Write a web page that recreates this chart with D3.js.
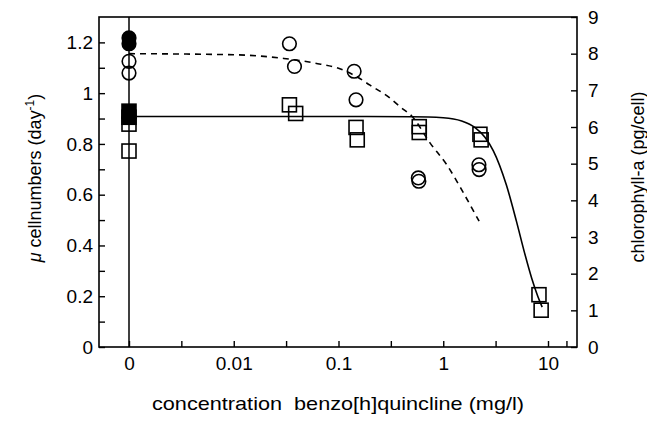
<!DOCTYPE html>
<html><head><meta charset="utf-8">
<script src="https://cdn.jsdelivr.net/npm/d3@7/dist/d3.min.js"></script>
<style>
html,body{margin:0;padding:0;background:#fff;}
svg{display:block;font-family:"Liberation Sans",Arial,Helvetica,sans-serif;}
</style></head>
<body>
<svg id="chart" width="647" height="422"></svg>
<script>
// ---- data; concentration 0 is drawn at the "0" position ----
const xTickValues = [0, 0.01, 0.1, 1, 10];
const xTickLabels = ["0", "0.01", "0.1", "1", "10"];
const xMinorTicks = [0.00316, 0.0316, 0.316, 3.16, 15];
const leftTickValues = [0, 0.2, 0.4, 0.6, 0.8, 1, 1.2];
const leftTickLabels = ["0", "0.2", "0.4", "0.6", "0.8", "1", "1.2"];
const leftMinorTicks = [0.1, 0.3, 0.5, 0.7, 0.9, 1.1];
const rightTickValues = [0,1,2,3,4,5,6,7,8,9];

// growth rate (squares, left axis)
const squareConc = [0, 0, 0, 0, 0.034, 0.039, 0.147, 0.151, 0.59, 0.59, 2.24, 2.3, 8.2, 8.6];
const squareMu   = [0.929, 0.905, 0.878, 0.772, 0.954, 0.92, 0.865, 0.816, 0.868, 0.845, 0.838, 0.816, 0.206, 0.145];
const squareFilled = [true, true, false, false, false, false, false, false, false, false, false, false, false, false];

// chlorophyll-a (circles, right axis)
const circleConc = [0, 0, 0, 0, 0.034, 0.038, 0.141, 0.147, 0.578, 0.585, 2.19, 2.2];
const circleChl  = [8.43, 8.27, 7.79, 7.47, 8.27, 7.65, 7.52, 6.74, 4.61, 4.52, 4.97, 4.84];
const circleFilled = [true, true, false, false, false, false, false, false, false, false, false, false];

// fitted curves
const muFitConc = [0, 0.1, 0.5, 1, 1.5, 2, 2.5, 3, 4, 5, 6, 7, 8, 8.8];
const muFitVal  = [0.908, 0.908, 0.907, 0.903, 0.89, 0.865, 0.826, 0.774, 0.639, 0.495, 0.368, 0.27, 0.199, 0.157];
const chlFitConc = [0, 0.01, 0.03, 0.06, 0.1, 0.15, 0.2, 0.3, 0.4, 0.5, 0.75, 1.08, 1.56, 2.2];
const chlFitVal  = [8.0, 7.97, 7.87, 7.74, 7.6, 7.37, 7.14, 6.82, 6.52, 6.3, 5.56, 4.97, 4.2, 3.43];

// ---- layout ----
const L = 99, R = 577, T = 17, B = 347;
const ZERO_AT = 0.001;
const svg = d3.select("#chart");

const xLog = d3.scaleLog().domain([0.001, 10]).range([129, 548]);
const x = c => xLog(c === 0 ? ZERO_AT : c);
const yL = d3.scaleLinear().domain([0, 1.3]).range([B, T]);
const yR = d3.scaleLinear().domain([0, 9]).range([B, T]);

const ink = "#000";

// frame
svg.append("rect").attr("x", L).attr("y", T).attr("width", R - L).attr("height", B - T)
  .attr("fill", "none").attr("stroke", ink).attr("stroke-width", 1.6);

// vertical line at concentration 0
svg.append("line").attr("x1", x(0)).attr("x2", x(0)).attr("y1", T).attr("y2", B)
  .attr("stroke", ink).attr("stroke-width", 1.5);

// x axis
const xAxis = d3.axisBottom(xLog)
  .tickValues(xTickValues.map(v => v === 0 ? ZERO_AT : v))
  .tickFormat((d, i) => xTickLabels[i])
  .tickSizeInner(-6).tickSizeOuter(0).tickPadding(10);
const gx = svg.append("g").attr("transform", `translate(0,${B})`).call(xAxis);
gx.select(".domain").remove();
const gxm = svg.append("g").attr("transform", `translate(0,${B})`)
  .call(d3.axisBottom(xLog).tickValues(xMinorTicks).tickFormat("").tickSizeInner(-6).tickSizeOuter(0));
gxm.select(".domain").remove();

// left axis
const gl = svg.append("g").attr("transform", `translate(${L},0)`)
  .call(d3.axisLeft(yL).tickValues(leftTickValues).tickFormat((d, i) => leftTickLabels[i])
    .tickSizeInner(-6).tickSizeOuter(0).tickPadding(6));
gl.select(".domain").remove();
const glm = svg.append("g").attr("transform", `translate(${L},0)`)
  .call(d3.axisLeft(yL).tickValues(leftMinorTicks).tickFormat("")
    .tickSizeInner(-6).tickSizeOuter(0));
glm.select(".domain").remove();

// right axis
const gr = svg.append("g").attr("transform", `translate(${R},0)`)
  .call(d3.axisRight(yR).tickValues(rightTickValues).tickFormat(d3.format("d"))
    .tickSizeInner(-6).tickSizeOuter(0).tickPadding(11));
gr.select(".domain").remove();

svg.selectAll(".tick line").attr("stroke", ink).attr("stroke-width", 1.4);
svg.selectAll(".tick text").attr("fill", ink).style("font-size", "19px")
  .style("font-family", '"Liberation Sans",Arial,sans-serif');

// curves
svg.append("path")
  .datum(muFitConc.map((c, i) => [c, muFitVal[i]]))
  .attr("d", d3.line().x(d => x(d[0])).y(d => yL(d[1])).curve(d3.curveMonotoneX))
  .attr("fill", "none").attr("stroke", ink).attr("stroke-width", 1.6);
svg.append("path")
  .datum(chlFitConc.map((c, i) => [c, chlFitVal[i]]))
  .attr("d", d3.line().x(d => x(d[0])).y(d => yR(d[1])).curve(d3.curveMonotoneX))
  .attr("fill", "none").attr("stroke", ink).attr("stroke-width", 1.6)
  .attr("stroke-dasharray", "6,5");

// squares
const S = 14;
svg.append("g").selectAll("rect").data(squareConc.map((c, i) => ({c, v: squareMu[i], f: squareFilled[i]})))
  .join("rect")
  .attr("x", d => x(d.c) - S / 2).attr("y", d => yL(d.v) - S / 2)
  .attr("width", S).attr("height", S)
  .attr("fill", d => d.f ? ink : "none").attr("stroke", ink).attr("stroke-width", 1.6);

// circles
svg.append("g").selectAll("circle").data(circleConc.map((c, i) => ({c, v: circleChl[i], f: circleFilled[i]})))
  .join("circle")
  .attr("cx", d => x(d.c)).attr("cy", d => yR(d.v)).attr("r", 6.8)
  .attr("fill", d => d.f ? ink : "none").attr("stroke", ink).attr("stroke-width", 1.6);

// axis titles
const lt = svg.append("text").attr("transform", `translate(41,178) rotate(-90)`)
  .attr("text-anchor", "middle").style("font-size", "18px").attr("fill", ink);
lt.append("tspan").style("font-style", "italic").text("μ");
lt.append("tspan").text(" cellnumbers (day");
lt.append("tspan").attr("dy", -7).style("font-size", "12px").text("-1");
lt.append("tspan").attr("dy", 7).text(")");

svg.append("text").attr("transform", `translate(644,177) rotate(-90)`)
  .attr("text-anchor", "middle").style("font-size", "18px").attr("fill", ink)
  .text("chlorophyll-a (pg/cell)");

svg.append("text").attr("x", 338).attr("y", 410)
  .attr("text-anchor", "middle").style("font-size", "19px").attr("fill", ink)
  .attr("xml:space", "preserve")
  .attr("textLength", 372).attr("lengthAdjust", "spacingAndGlyphs")
  .text("concentration  benzo[h]quincline (mg/l)");
</script>
</body></html>
